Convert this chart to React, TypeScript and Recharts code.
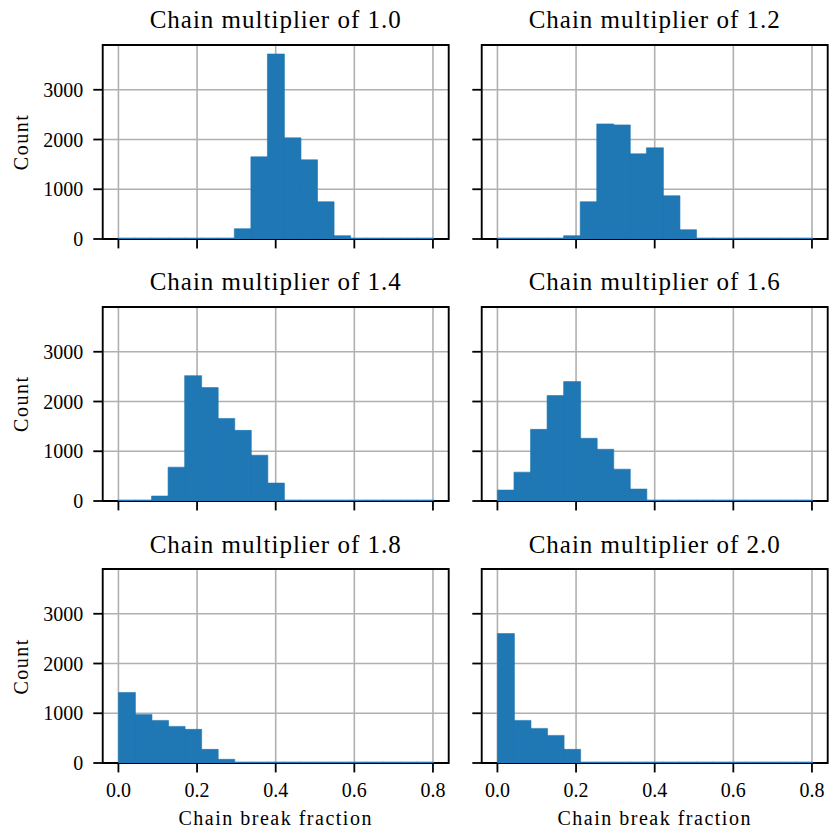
import React from "react";
import {
  BarChart,
  Bar,
  XAxis,
  YAxis,
  CartesianGrid,
  ReferenceArea,
} from "recharts";

// histogram bins: 19 bins between 0 and 0.8
const binCenters = [
  0.02105, 0.06316, 0.10526, 0.14737, 0.18947, 0.23158, 0.27368, 0.31579,
  0.35789, 0.4, 0.44211, 0.48421, 0.52632, 0.56842, 0.61053, 0.65263,
  0.69474, 0.73684, 0.77895,
];

const multipliers = ["1.0", "1.2", "1.4", "1.6", "1.8", "2.0"];

const counts10 = [0, 0, 0, 0, 0, 0, 0, 207, 1652, 3719, 2033, 1592, 749, 67, 0, 0, 0, 0, 0];
const counts12 = [0, 0, 0, 0, 67, 749, 2314, 2294, 1712, 1833, 870, 187, 0, 0, 0, 0, 0, 0, 0];
const counts14 = [0, 0, 100, 680, 2520, 2280, 1660, 1420, 920, 360, 13, 0, 0, 0, 0, 0, 0, 0, 0];
const counts16 = [220, 580, 1440, 2120, 2400, 1260, 1040, 640, 240, 20, 0, 0, 0, 0, 0, 0, 0, 0, 0];
const counts18 = [1418, 977, 856, 736, 676, 274, 74, 20, 0, 0, 0, 0, 0, 0, 0, 0, 0, 0, 0];
const counts20 = [2602, 856, 696, 555, 274, 20, 0, 0, 0, 0, 0, 0, 0, 0, 0, 0, 0, 0, 0];

const xTicks = [0, 0.2, 0.4, 0.6, 0.8];
const yTicks = [0, 1000, 2000, 3000];

const X_MIN = -0.04;
const X_MAX = 0.84;
const Y_MAX = 3900;

const FONT = "Liberation Serif";
const BLUE = "#1f77b4";

const PLOT_W = 346;
const PLOT_H = 194;
const Y_AXIS_W = 102.7;
const TOP_PAD = 10;
const X_AXIS_H = 70;
const CHART_W = Y_AXIS_W + PLOT_W + 2;
const CHART_H = TOP_PAD + PLOT_H + X_AXIS_H;

const colX = [102.7, 481.7];
const rowY = [45, 306.7, 569.3];

const allCounts = [counts10, counts12, counts14, counts16, counts18, counts20];

function Panel({
  counts,
  plotLeft,
  plotTop,
  showX,
  showY,
}: {
  counts: number[];
  plotLeft: number;
  plotTop: number;
  showX: boolean;
  showY: boolean;
}) {
  const data = binCenters.map((x, i) => ({ x, count: counts[i] }));
  const tickStyle = { fill: "#000", fontSize: 20, fontFamily: FONT };
  const lineStyle = { stroke: "#000", strokeWidth: 1.8 };

  return (
    <div
      style={{
        position: "absolute",
        left: plotLeft - Y_AXIS_W,
        top: plotTop - TOP_PAD,
        width: CHART_W,
        height: CHART_H,
      }}
    >
      <BarChart
        width={CHART_W}
        height={CHART_H}
        data={data}
        margin={{ top: TOP_PAD, right: 2, left: 0, bottom: 0 }}
        barCategoryGap={0}
        barGap={0}
      >
        <CartesianGrid stroke="#b0b0b0" strokeWidth={1.6} />
        <XAxis
          dataKey="x"
          type="number"
          domain={[X_MIN, X_MAX]}
          ticks={xTicks}
          interval={0}
          allowDataOverflow
          height={X_AXIS_H}
          axisLine={false}
          tickSize={9.4}
          tickMargin={10}
          tickLine={lineStyle}
          tick={tickStyle}
          tickFormatter={(v: number) => (showX ? v.toFixed(1) : "")}
        />
        <YAxis
          type="number"
          domain={[0, Y_MAX]}
          ticks={yTicks}
          interval={0}
          allowDataOverflow
          width={Y_AXIS_W}
          axisLine={false}
          tickSize={9.4}
          tickMargin={10}
          tickLine={lineStyle}
          tick={tickStyle}
          tickFormatter={(v: number) => (showY ? String(v) : "")}
        />
        <Bar
          dataKey="count"
          fill={BLUE}
          stroke={BLUE}
          strokeWidth={0.6}
          minPointSize={1}
          isAnimationActive={false}
        />
        <ReferenceArea
          x1={X_MIN}
          x2={X_MAX}
          y1={0}
          y2={Y_MAX}
          fill="none"
          fillOpacity={0}
          stroke="#000"
          strokeWidth={1.8}
          ifOverflow="visible"
        />
      </BarChart>
    </div>
  );
}

export default function App() {
  return (
    <div
      style={{
        position: "absolute",
        left: 0,
        top: 0,
        width: 830,
        height: 834,
        background: "#fff",
        overflow: "hidden",
      }}
    >
      {multipliers.map((m, i) => {
        const col = i % 2;
        const row = Math.floor(i / 2);
        return (
          <Panel
            key={m}
            counts={allCounts[i]}
            plotLeft={colX[col]}
            plotTop={rowY[row]}
            showX={row === 2}
            showY={col === 0}
          />
        );
      })}
      <svg
        width={830}
        height={834}
        style={{ position: "absolute", left: 0, top: 0, pointerEvents: "none" }}
        fontFamily={FONT}
      >
        {multipliers.map((m, i) => {
          const col = i % 2;
          const row = Math.floor(i / 2);
          return (
            <text
              key={m}
              x={colX[col] + PLOT_W / 2}
              y={rowY[row] - 16.7}
              textAnchor="middle"
              fontSize={25}
              letterSpacing={1}
              fill="#000"
            >
              {`Chain multiplier of ${m}`}
            </text>
          );
        })}
        {rowY.map((y) => (
          <text
            key={y}
            x={28.3}
            y={y + PLOT_H / 2}
            transform={`rotate(-90, 28.3, ${y + PLOT_H / 2})`}
            textAnchor="middle"
            fontSize={20}
            letterSpacing={1.5}
            fill="#000"
          >
            Count
          </text>
        ))}
        {colX.map((x) => (
          <text
            key={x}
            x={x + PLOT_W / 2}
            y={825}
            textAnchor="middle"
            fontSize={20}
            letterSpacing={1.5}
            fill="#000"
          >
            Chain break fraction
          </text>
        ))}
      </svg>
    </div>
  );
}
